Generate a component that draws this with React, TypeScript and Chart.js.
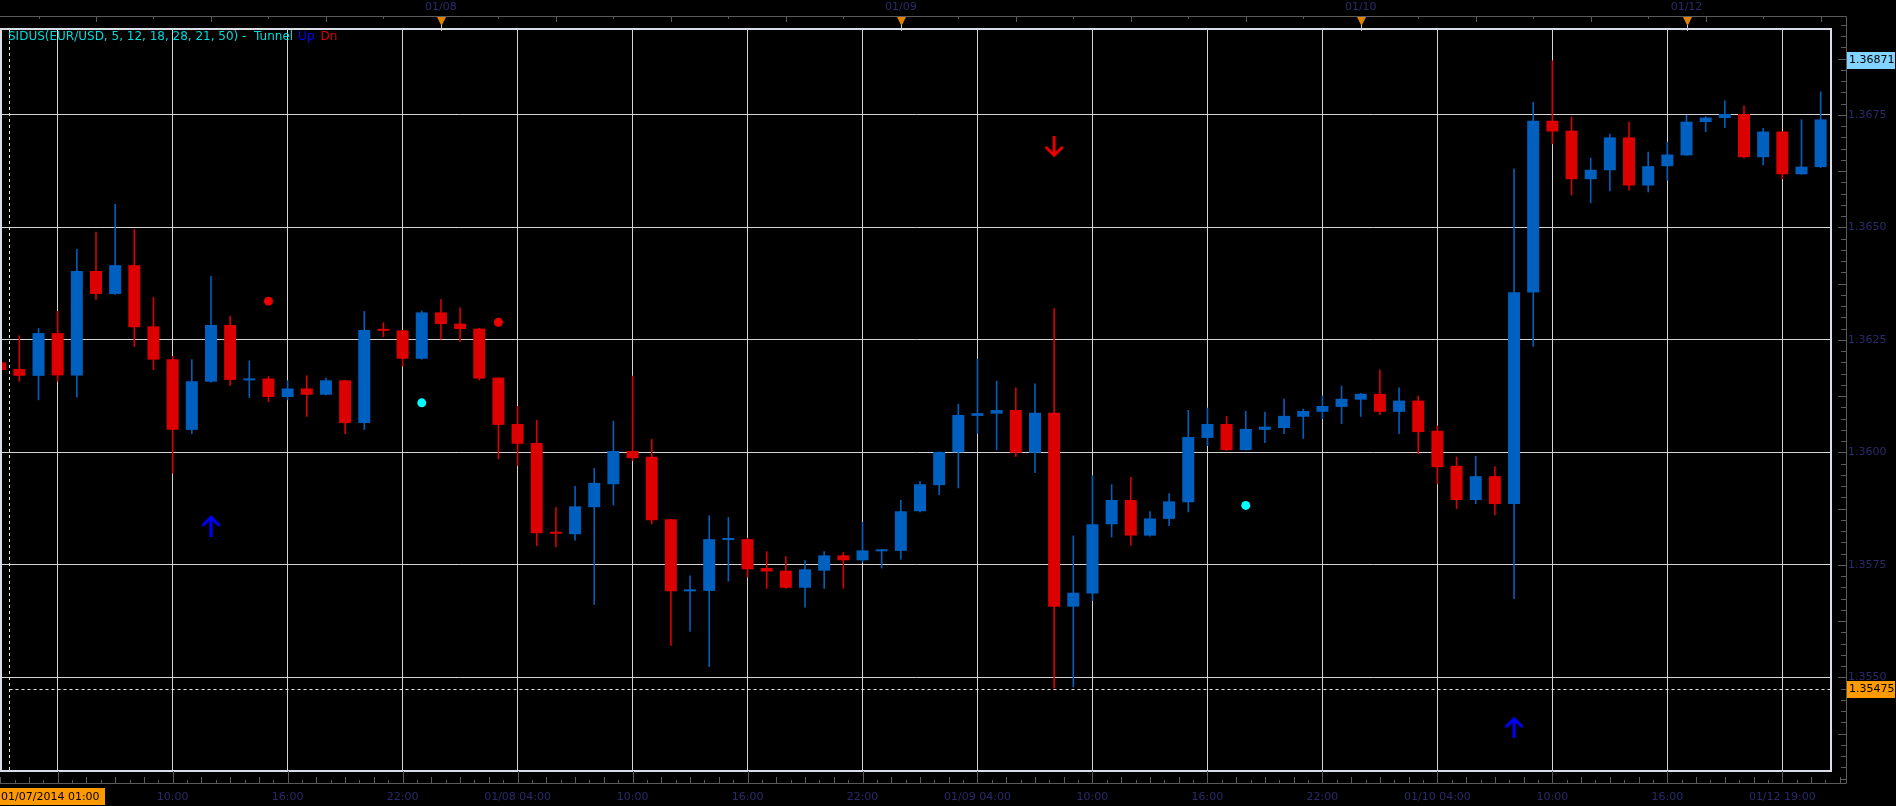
import React, { useEffect, useRef } from 'react';
import { Chart, registerables } from 'chart.js';

Chart.register(...registerables);

const W = 1896;
const H = 806;

// hourly EUR/USD candles, index 0 = 01/07/2014 01:00
const opens = [
  1.36200, 1.36185, 1.36170, 1.36265, 1.36171, 1.36403, 1.36352, 1.36416, 1.36280, 1.36207,
  1.36050, 1.36157, 1.36283, 1.36160, 1.36164, 1.36123, 1.36142, 1.36128, 1.36160, 1.36065,
  1.36274, 1.36271, 1.36208, 1.36311, 1.36286, 1.36275, 1.36166, 1.36063, 1.36021, 1.35823,
  1.35818, 1.35878, 1.35929, 1.36003, 1.35990, 1.35851, 1.35691, 1.35692, 1.35805, 1.35807,
  1.35743, 1.35737, 1.35699, 1.35737, 1.35771, 1.35760, 1.35780, 1.35781, 1.35869, 1.35927,
  1.36000, 1.36081, 1.36086, 1.36094, 1.35999, 1.36088, 1.35657, 1.35686, 1.35840, 1.35894,
  1.35815, 1.35852, 1.35889, 1.36032, 1.36063, 1.36005, 1.36050, 1.36054, 1.36079, 1.36090,
  1.36101, 1.36117, 1.36130, 1.36090, 1.36115, 1.36048, 1.35970, 1.35894, 1.35947, 1.35885,
  1.36355, 1.36737, 1.36715, 1.36607, 1.36627, 1.36700, 1.36593, 1.36636, 1.36660, 1.36734,
  1.36743, 1.36752, 1.36656, 1.36713, 1.36618, 1.36634,
];
const highs = [
  1.36228, 1.36260, 1.36276, 1.36314, 1.36452, 1.36490, 1.36552, 1.36496, 1.36345, 1.36214,
  1.36207, 1.36392, 1.36303, 1.36204, 1.36169, 1.36160, 1.36171, 1.36166, 1.36161, 1.36314,
  1.36289, 1.36272, 1.36315, 1.36340, 1.36322, 1.36276, 1.36166, 1.36103, 1.36072, 1.35878,
  1.35925, 1.35965, 1.36070, 1.36170, 1.36030, 1.35852, 1.35726, 1.35860, 1.35856, 1.35810,
  1.35780, 1.35769, 1.35760, 1.35780, 1.35778, 1.35845, 1.35785, 1.35894, 1.35936, 1.36002,
  1.36108, 1.36208, 1.36159, 1.36144, 1.36153, 1.36320, 1.35815, 1.35949, 1.35929, 1.35945,
  1.35869, 1.35909, 1.36094, 1.36099, 1.36081, 1.36092, 1.36090, 1.36119, 1.36097, 1.36126,
  1.36148, 1.36132, 1.36184, 1.36144, 1.36126, 1.36059, 1.35990, 1.35992, 1.35969, 1.36631,
  1.36779, 1.36871, 1.36746, 1.36655, 1.36708, 1.36735, 1.36668, 1.36690, 1.36750, 1.36747,
  1.36782, 1.36771, 1.36721, 1.36714, 1.36740, 1.36802,
];
const lows = [
  1.36093, 1.36157, 1.36116, 1.36157, 1.36122, 1.36339, 1.36350, 1.36234, 1.36183, 1.35953,
  1.36041, 1.36155, 1.36148, 1.36121, 1.36112, 1.36116, 1.36079, 1.36127, 1.36041, 1.36050,
  1.36256, 1.36191, 1.36206, 1.36251, 1.36245, 1.36160, 1.35985, 1.35970, 1.35792, 1.35789,
  1.35804, 1.35661, 1.35882, 1.35981, 1.35840, 1.35570, 1.35601, 1.35523, 1.35713, 1.35722,
  1.35697, 1.35697, 1.35655, 1.35697, 1.35697, 1.35755, 1.35742, 1.35762, 1.35867, 1.35905,
  1.35920, 1.36041, 1.36005, 1.35990, 1.35954, 1.35475, 1.35478, 1.35670, 1.35811, 1.35793,
  1.35813, 1.35836, 1.35867, 1.36014, 1.36003, 1.36004, 1.36021, 1.36041, 1.36030, 1.36074,
  1.36063, 1.36079, 1.36083, 1.36041, 1.35996, 1.35929, 1.35874, 1.35885, 1.35860, 1.35674,
  1.36235, 1.36685, 1.36571, 1.36554, 1.36580, 1.36582, 1.36578, 1.36604, 1.36659, 1.36712,
  1.36721, 1.36653, 1.36638, 1.36607, 1.36617, 1.36632,
];
const closes = [
  1.36183, 1.36170, 1.36265, 1.36171, 1.36403, 1.36352, 1.36416, 1.36278, 1.36206, 1.36050,
  1.36158, 1.36283, 1.36161, 1.36164, 1.36123, 1.36142, 1.36128, 1.36160, 1.36065, 1.36272,
  1.36270, 1.36208, 1.36311, 1.36285, 1.36274, 1.36164, 1.36061, 1.36019, 1.35820, 1.35819,
  1.35880, 1.35932, 1.36003, 1.35987, 1.35849, 1.35691, 1.35694, 1.35807, 1.35808, 1.35740,
  1.35735, 1.35699, 1.35740, 1.35771, 1.35760, 1.35782, 1.35784, 1.35869, 1.35929, 1.36001,
  1.36083, 1.36087, 1.36094, 1.35999, 1.36088, 1.35657, 1.35688, 1.35840, 1.35894, 1.35815,
  1.35853, 1.35891, 1.36034, 1.36063, 1.36005, 1.36052, 1.36057, 1.36081, 1.36092, 1.36103,
  1.36119, 1.36130, 1.36090, 1.36115, 1.36045, 1.35967, 1.35894, 1.35947, 1.35885, 1.36356,
  1.36737, 1.36713, 1.36607, 1.36628, 1.36700, 1.36593, 1.36636, 1.36662, 1.36735, 1.36744,
  1.36752, 1.36656, 1.36713, 1.36618, 1.36635, 1.36740,
];

const gridIndex = [3, 9, 15, 21, 27, 33, 39, 45, 51, 57, 63, 69, 75, 81, 87, 93];
const bottomTickLabels = ['', '10:00', '16:00', '22:00', '01/08 04:00', '10:00', '16:00', '22:00',
  '01/09 04:00', '10:00', '16:00', '22:00', '01/10 04:00', '10:00', '16:00', '01/12 19:00'];
const dateMarkIndex = [23, 47, 71, 88];
const dateMarkLabels = ['01/08', '01/09', '01/10', '01/12'];
const priceTicks = [1.3550, 1.3575, 1.3600, 1.3625, 1.3650, 1.3675];
const firstBarLabel = '01/07/2014 01:00';
const highMarkPrice = 1.36871;
const cursorPrice = 1.35475;
const cursorIndex = 0.48;

const upArrowIndex = [11, 79];
const upArrowPrice = [1.35837, 1.35389];
const downArrowIndex = [55];
const downArrowPrice = [1.36679];
const redDotIndex = [14, 26];
const redDotPrice = [1.36336, 1.36289];
const cyanDotIndex = [22, 65];
const cyanDotPrice = [1.36110, 1.35882];

const legendMain = 'SIDUS(EUR/USD, 5, 12, 18, 28, 21, 50) -  Tunnel';
const legendUp = 'Up';
const legendDn = 'Dn';

const X_MIN = 0.095;
const X_MAX = 95.54;
const Y_MIN = 1.352917;
const Y_MAX = 1.369409;

const BLUE = '#0060c0';
const RED = '#dc0000';
const NAVY = '#2a2a6c';
const AXIS = '#5a5a5a';
const FONT = '"DejaVu Sans", sans-serif';

function makeArrow(color: string, up: boolean) {
  const c = document.createElement('canvas');
  c.width = 20;
  c.height = 22;
  const g = c.getContext('2d') as CanvasRenderingContext2D;
  g.strokeStyle = color;
  g.lineWidth = 3;
  g.beginPath();
  if (up) {
    g.moveTo(10, 2);
    g.lineTo(10, 22);
    g.moveTo(1.5, 11);
    g.lineTo(10, 2.5);
    g.lineTo(18.5, 11);
  } else {
    g.moveTo(10, 0);
    g.lineTo(10, 20);
    g.moveTo(1.5, 11);
    g.lineTo(10, 19.5);
    g.lineTo(18.5, 11);
  }
  g.stroke();
  return c;
}

const decor = {
  id: 'decor',
  beforeDraw(chart: any) {
    const { ctx } = chart;
    ctx.save();
    ctx.fillStyle = '#000';
    ctx.fillRect(0, 0, chart.width, chart.height);
    ctx.restore();
  },
  beforeDatasetsDraw(chart: any) {
    const { ctx, chartArea: a, scales } = chart;
    const x = Math.round(scales.x.getPixelForValue(cursorIndex)) + 0.5;
    const y = Math.round(scales.y.getPixelForValue(cursorPrice)) + 0.5;
    ctx.save();
    ctx.strokeStyle = '#e6e6e6';
    ctx.lineWidth = 1;
    ctx.setLineDash([3, 3]);
    ctx.beginPath();
    ctx.moveTo(x, a.top);
    ctx.lineTo(x, a.bottom);
    ctx.moveTo(x, y);
    ctx.lineTo(a.right, y);
    ctx.stroke();
    ctx.restore();
  },
  afterDraw(chart: any) {
    const { ctx, chartArea: a, scales } = chart;
    const xs = scales.x;
    const ys = scales.y;
    const axisX = a.right + 15;
    const topY = 16;
    const botY = a.bottom + 12;
    ctx.save();
    // frame
    ctx.strokeStyle = '#d9dee6';
    ctx.lineWidth = 2;
    ctx.strokeRect(1, a.top, a.right - 1, a.bottom - a.top);
    // rulers
    ctx.strokeStyle = AXIS;
    ctx.lineWidth = 1;
    ctx.beginPath();
    ctx.moveTo(0, topY + 0.5);
    ctx.lineTo(axisX + 0.5, topY + 0.5);
    ctx.lineTo(axisX + 0.5, botY + 0.5);
    ctx.lineTo(0, botY + 0.5);
    // bottom ticks
    for (let k = -8; k < 140; k++) {
      const px = Math.round(xs.getPixelForValue(3 + k * 0.75)) + 0.5;
      if (px < 0 || px > axisX) continue;
      const len = k % 8 === 0 ? 12 : (k % 2 === 0 ? 6 : 3);
      ctx.moveTo(px, botY - len);
      ctx.lineTo(px, botY);
    }
    // top ticks
    for (let v = 2; v < 100; v += 3) {
      const px = Math.round(xs.getPixelForValue(v)) + 0.5;
      if (px < 0 || px > axisX) continue;
      const len = (v - 5) % 6 === 0 ? 6 : 3;
      ctx.moveTo(px, topY);
      ctx.lineTo(px, topY + len);
    }
    // right ticks
    for (let k = 5400; k < 5490; k++) {
      const py = Math.round(ys.getPixelForValue(k * 0.00025)) + 0.5;
      if (py < topY || py > botY) continue;
      const len = k % 5 === 0 ? 8 : 5;
      ctx.moveTo(axisX - len, py);
      ctx.lineTo(axisX, py);
    }
    ctx.stroke();
    // date triangles
    dateMarkIndex.forEach((idx) => {
      const px = Math.round(xs.getPixelForValue(idx)) + 0.5;
      ctx.fillStyle = '#e08400';
      ctx.beginPath();
      ctx.moveTo(px - 4.5, 17);
      ctx.lineTo(px + 4.5, 17);
      ctx.lineTo(px, 26);
      ctx.closePath();
      ctx.fill();
      ctx.strokeStyle = '#c8c8c8';
      ctx.beginPath();
      ctx.moveTo(px, 25);
      ctx.lineTo(px, 31);
      ctx.stroke();
    });
    // legend
    ctx.font = `12px ${FONT}`;
    ctx.textBaseline = 'middle';
    ctx.textAlign = 'left';
    let lx = 8;
    const ly = 37;
    ctx.fillStyle = '#00dcdc';
    ctx.fillText(legendMain, lx, ly);
    lx += ctx.measureText(legendMain).width + 5;
    ctx.fillStyle = '#0000ff';
    ctx.fillText(legendUp, lx, ly);
    lx += ctx.measureText(legendUp).width + 6;
    ctx.fillStyle = '#dd0000';
    ctx.fillText(legendDn, lx, ly);
    // highlight price labels
    ctx.font = `11px ${FONT}`;
    const box = (price: number, bg: string) => {
      const py = ys.getPixelForValue(price);
      ctx.fillStyle = bg;
      ctx.fillRect(axisX + 1, Math.round(py) - 8, 48, 17);
      ctx.fillStyle = '#000';
      ctx.fillText(price.toFixed(5), axisX + 3, Math.round(py) + 0.5);
    };
    box(highMarkPrice, '#80d4ff');
    box(cursorPrice, '#ff9a00');
    // first bar time label
    ctx.fillStyle = '#ff9900';
    ctx.fillRect(0, 788, 105, 17);
    ctx.fillStyle = '#000';
    ctx.fillText(firstBarLabel, 1, 797);
    ctx.restore();
  },
};

export default function App() {
  const ref = useRef<HTMLCanvasElement>(null);
  useEffect(() => {
    document.body.style.margin = '0';
    document.body.style.background = '#000';
    const canvas = ref.current as HTMLCanvasElement;
    const idx = opens.map((_, i) => i);
    const colors = idx.map((i) => (closes[i] >= opens[i] ? BLUE : RED));
    const upImg = makeArrow('#0000ff', true);
    const downImg = makeArrow('#ee0000', false);
    const tickFont = { family: FONT, size: 11 };

    const chart = new Chart(canvas, {
      type: 'bar',
      data: {
        datasets: [
          {
            type: 'scatter',
            data: upArrowIndex.map((x, k) => ({ x, y: upArrowPrice[k] })),
            pointStyle: upImg,
            order: -2,
          } as any,
          {
            type: 'scatter',
            data: downArrowIndex.map((x, k) => ({ x, y: downArrowPrice[k] })),
            pointStyle: downImg,
            order: -2,
          } as any,
          {
            type: 'scatter',
            data: redDotIndex.map((x, k) => ({ x, y: redDotPrice[k] })),
            pointRadius: 4.5,
            backgroundColor: '#ee0000',
            borderWidth: 0,
            order: -1,
          } as any,
          {
            type: 'scatter',
            data: cyanDotIndex.map((x, k) => ({ x, y: cyanDotPrice[k] })),
            pointRadius: 4.5,
            backgroundColor: '#00ffff',
            borderWidth: 0,
            order: -1,
          } as any,
          {
            type: 'bar',
            data: idx.map((i) => ({ x: i, y: [opens[i], closes[i]] })),
            backgroundColor: colors,
            borderWidth: 0,
            barThickness: 12,
            minBarLength: 2,
            grouped: false,
            inflateAmount: 0,
            clip: 0,
            order: 0,
          } as any,
          {
            type: 'bar',
            data: idx.map((i) => ({ x: i, y: [lows[i], highs[i]] })),
            backgroundColor: colors,
            borderWidth: 0,
            barThickness: 1.6,
            grouped: false,
            inflateAmount: 0,
            clip: 0,
            order: 1,
          } as any,
        ],
      },
      options: {
        responsive: false,
        animation: false,
        devicePixelRatio: 1,
        events: [],
        layout: { autoPadding: false, padding: { left: 2, top: 0, right: 0, bottom: 0 } },
        plugins: { legend: { display: false }, tooltip: { enabled: false } },
        scales: {
          x: {
            type: 'linear',
            position: 'bottom',
            min: X_MIN,
            max: X_MAX,
            offset: false,
            grid: { offset: false, color: '#d4d4d4', lineWidth: 1, drawTicks: false },
            border: { display: false },
            afterBuildTicks: (s: any) => {
              s.ticks = gridIndex.map((v) => ({ value: v }));
            },
            afterFit: (s: any) => {
              s.height = 35;
            },
            ticks: {
              autoSkip: false,
              maxRotation: 0,
              padding: 20,
              color: NAVY,
              font: tickFont,
              callback: (v: any) => {
                const k = gridIndex.indexOf(Math.round(Number(v)));
                return k >= 0 ? bottomTickLabels[k] : '';
              },
            },
          },
          xTop: {
            type: 'linear',
            position: 'top',
            min: X_MIN,
            max: X_MAX,
            offset: false,
            grid: { display: false, drawTicks: false },
            border: { display: false },
            afterBuildTicks: (s: any) => {
              s.ticks = dateMarkIndex.map((v) => ({ value: v }));
            },
            afterFit: (s: any) => {
              s.height = 29;
            },
            ticks: {
              autoSkip: false,
              maxRotation: 0,
              padding: 15,
              color: NAVY,
              font: tickFont,
              callback: (v: any) => {
                const k = dateMarkIndex.indexOf(Math.round(Number(v)));
                return k >= 0 ? dateMarkLabels[k] : '';
              },
            },
          },
          y: {
            type: 'linear',
            position: 'right',
            min: Y_MIN,
            max: Y_MAX,
            grid: { color: '#d4d4d4', lineWidth: 1, drawTicks: false },
            border: { display: false },
            afterBuildTicks: (s: any) => {
              s.ticks = priceTicks.map((v) => ({ value: v }));
            },
            afterFit: (s: any) => {
              s.width = 65;
            },
            ticks: {
              padding: 17,
              color: NAVY,
              font: tickFont,
              callback: (v: any) => Number(v).toFixed(4),
            },
          },
        },
      } as any,
      plugins: [decor],
    });
    return () => chart.destroy();
  }, []);
  return (
    <div style={{ width: W, height: H, background: '#000' }}>
      <canvas ref={ref} width={W} height={H} style={{ display: 'block', width: W, height: H }} />
    </div>
  );
}
